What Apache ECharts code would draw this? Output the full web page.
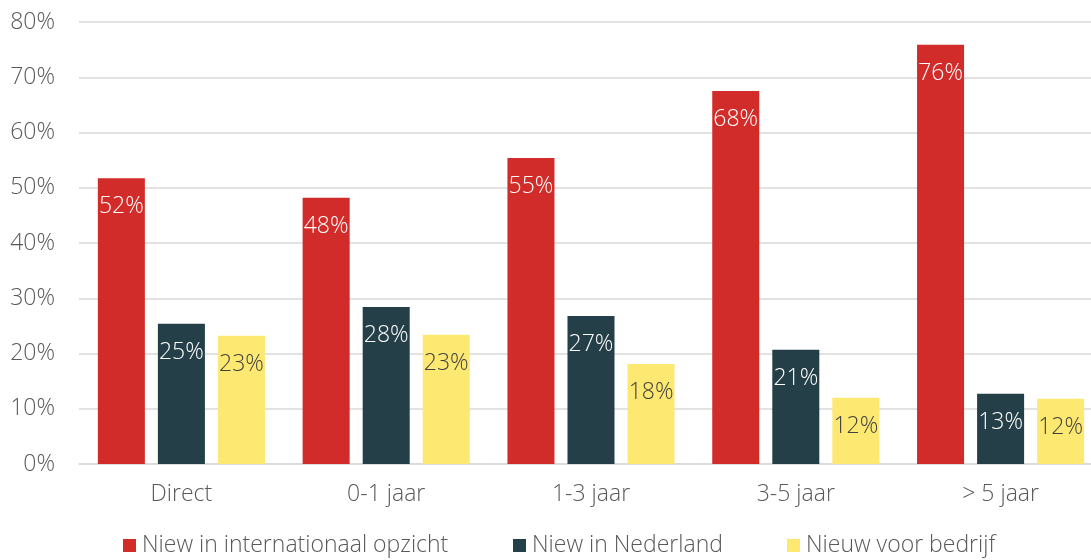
<!DOCTYPE html>
<html>
<head>
<meta charset="utf-8">
<script src="https://cdn.jsdelivr.net/npm/echarts@6/dist/echarts.min.js"></script>
<style>
  html, body { margin: 0; padding: 0; background: #fff; overflow: hidden; }
  /* the plot runs slightly past the right edge of the window */
  #chart { width: 1103px; height: 560px; }
</style>
</head>
<body>
<div id="chart"></div>
<script>
// Categories (time since start) and share per innovation type, in percent
const categories = ['Direct', '0-1 jaar', '1-3 jaar', '3-5 jaar', '> 5 jaar'];
const seriesNames = ['Niew in internationaal opzicht', 'Niew in Nederland', 'Nieuw voor bedrijf'];
const internationaal = [51.7, 48.2, 55.4, 67.5, 75.9];
const nederland = [25.4, 28.4, 26.8, 20.7, 12.7];
const bedrijf = [23.2, 23.4, 18.1, 12.0, 11.8];
const yTicks = [0, 10, 20, 30, 40, 50, 60, 70, 80];

const FONT = 'Open Sans';
const WEIGHT = 300;
const FS = 23;
const TEXT = '#595959';
const colors = ['#D12C29', '#253F48', '#FDE972'];
const labelColors = ['#ffffff', '#ffffff', '#404040'];
const legendLeft = [123, 513, 787];

const chart = echarts.init(document.getElementById('chart'), null, { renderer: 'canvas' });

function barSeries(name, data, i) {
  return {
    name: name,
    type: 'bar',
    data: data,
    barGap: '27.7%',
    barCategoryGap: '18.4%',
    itemStyle: { color: colors[i] },
    label: {
      show: true,
      position: 'insideTop',
      distance: 17,
      color: labelColors[i],
      fontFamily: FONT,
      fontWeight: WEIGHT,
      fontSize: FS,
      formatter: p => Math.round(p.value) + '%'
    },
    emphasis: { disabled: true }
  };
}

// one legend block per series so each entry sits at its own x position
const legends = seriesNames.map((name, i) => ({
  data: [name],
  left: legendLeft[i],
  top: 534,
  padding: 0,
  itemWidth: 13,
  itemHeight: 13,
  icon: 'rect',
  selectedMode: false,
  textStyle: { fontFamily: FONT, fontWeight: WEIGHT, fontSize: FS, color: TEXT, padding: [0, 0, 0, 1] }
}));

chart.setOption({
  animation: false,
  textStyle: { fontFamily: FONT },
  grid: { left: 79, right: 0, top: 22, bottom: 96, containLabel: false },
  legend: legends,
  xAxis: {
    type: 'category',
    data: categories,
    axisLine: { lineStyle: { color: '#D9D9D9', width: 1.5 } },
    axisTick: { show: false },
    axisLabel: { fontFamily: FONT, fontWeight: WEIGHT, fontSize: FS, color: TEXT, margin: 19 }
  },
  yAxis: {
    type: 'value',
    min: yTicks[0],
    max: yTicks[yTicks.length - 1],
    interval: 10,
    axisLine: { show: false },
    axisTick: { show: false },
    splitLine: { lineStyle: { color: '#D9D9D9', width: 1.5 } },
    axisLabel: {
      fontFamily: FONT,
      fontWeight: WEIGHT,
      fontSize: FS,
      color: TEXT,
      margin: 24,
      formatter: v => v + '%'
    }
  },
  series: [
    barSeries(seriesNames[0], internationaal, 0),
    barSeries(seriesNames[1], nederland, 1),
    barSeries(seriesNames[2], bedrijf, 2)
  ]
});
</script>
</body>
</html>
